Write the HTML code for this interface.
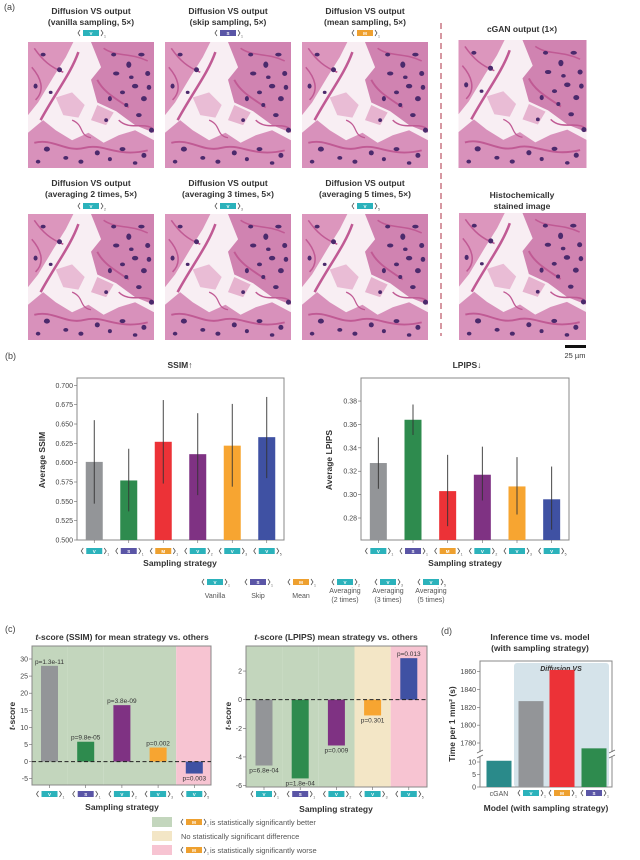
<!DOCTYPE html>
<html><head><meta charset="utf-8">
<style>
html,body{margin:0;padding:0;background:#fff;}
svg{display:block;font-family:"Liberation Sans",sans-serif;}
.t{font-weight:bold;font-size:8.5px;fill:#333;text-anchor:middle;}
.tk{font-size:7px;fill:#444;}
.lb{font-size:7px;fill:#555;text-anchor:middle;}
</style></head><body>
<svg id="fig" width="640" height="860" viewBox="0 0 640 860">
<defs>
<symbol id="tissue" viewBox="0 0 100 100">
<rect width="100" height="100" fill="#f8eef3"/>
<path d="M0 0 L36 0 L30 12 L20 28 L8 48 L0 58 Z" fill="#dc96bd"/>
<path d="M50 0 L100 0 L100 72 L85 66 L70 55 L55 48 L50 30 L58 20 Z" fill="#d083b1"/>
<path d="M0 72 L12 62 L22 70 L35 78 L48 72 L60 80 L72 74 L85 70 L100 78 L100 100 L0 100 Z" fill="#d891bb"/>
<path d="M22 44 L35 40 L45 50 L40 60 L28 58 Z" fill="#e9bcd5"/>
<path d="M55 50 L68 56 L62 66 L50 62 Z" fill="#e6b3cf"/>
<g stroke="#c05a94" fill="none">
<path d="M40 8 C34 25 22 40 10 62" stroke-width="2"/>
<path d="M55 30 C60 40 70 45 80 52" stroke-width="1.5"/>
<path d="M5 5 C12 15 18 20 28 24" stroke-width="1.2"/>
<path d="M3 20 C10 28 14 38 6 46" stroke-width="1.2"/>
<path d="M60 5 C70 12 80 8 95 15" stroke-width="1.2"/>
<path d="M5 80 C20 76 30 88 45 84 C60 80 70 92 95 86" stroke-width="1.5"/>
<path d="M35 62 C45 66 40 74 50 76" stroke-width="1"/>
<path d="M72 62 C80 70 90 64 98 68" stroke-width="1.2"/>
</g>
<g fill="#4b2a6c">
<ellipse cx="70" cy="25" rx="2.5" ry="1.6"/><ellipse cx="80" cy="18" rx="2" ry="2.5"/><ellipse cx="90" cy="10" rx="2.5" ry="1.5"/>
<ellipse cx="95" cy="25" rx="2" ry="2"/><ellipse cx="85" cy="35" rx="2.5" ry="1.8"/><ellipse cx="75" cy="40" rx="2" ry="1.5"/>
<ellipse cx="92" cy="45" rx="2.3" ry="2"/><ellipse cx="65" cy="45" rx="1.6" ry="2"/><ellipse cx="88" cy="58" rx="2.2" ry="1.6"/>
<ellipse cx="12" cy="10" rx="2" ry="1.5"/><ellipse cx="25" cy="22" rx="2" ry="2"/><ellipse cx="6" cy="35" rx="1.6" ry="2"/>
<ellipse cx="15" cy="85" rx="2.4" ry="2"/><ellipse cx="30" cy="92" rx="2" ry="1.5"/><ellipse cx="55" cy="88" rx="2" ry="2"/>
<ellipse cx="75" cy="85" rx="2.3" ry="1.6"/><ellipse cx="92" cy="90" rx="2" ry="2"/><ellipse cx="62" cy="62" rx="1.5" ry="1.5"/>
<ellipse cx="98" cy="70" rx="2" ry="2"/><ellipse cx="68" cy="10" rx="2" ry="1.5"/>
<ellipse cx="82" cy="28" rx="1.8" ry="1.4"/><ellipse cx="96" cy="36" rx="1.8" ry="2"/><ellipse cx="78" cy="50" rx="1.6" ry="1.6"/>
<ellipse cx="18" cy="40" rx="1.5" ry="1.3"/><ellipse cx="42" cy="95" rx="2" ry="1.6"/><ellipse cx="85" cy="96" rx="1.8" ry="1.4"/>
<ellipse cx="8" cy="95" rx="1.8" ry="1.5"/><ellipse cx="65" cy="93" rx="1.6" ry="1.6"/>
</g>
</symbol>
</defs>
<text x="4" y="10" font-size="9" fill="#444">(a)</text>
<g>
<text class="t" x="91" y="14">Diffusion VS output</text><text class="t" x="91" y="25">(vanilla sampling, 5×)</text>
<text class="t" x="228" y="14">Diffusion VS output</text><text class="t" x="228" y="25">(skip sampling, 5×)</text>
<text class="t" x="365" y="14">Diffusion VS output</text><text class="t" x="365" y="25">(mean sampling, 5×)</text>
<text class="t" x="522" y="32">cGAN output (1×)</text>
<text class="t" x="91" y="186">Diffusion VS output</text><text class="t" x="91" y="197">(averaging 2 times, 5×)</text>
<text class="t" x="228" y="186">Diffusion VS output</text><text class="t" x="228" y="197">(averaging 3 times, 5×)</text>
<text class="t" x="365" y="186">Diffusion VS output</text><text class="t" x="365" y="197">(averaging 5 times, 5×)</text>
<text class="t" x="522" y="198">Histochemically</text><text class="t" x="522" y="209">stained image</text>
</g>
<use href="#tissue" x="28" y="42" width="126" height="126"/>
<use href="#tissue" x="165" y="42" width="126" height="126"/>
<use href="#tissue" x="301" y="42" width="128" height="126"/>
<use href="#tissue" x="458" y="40" width="129" height="128"/>
<use href="#tissue" x="28" y="214" width="126" height="126"/>
<use href="#tissue" x="165" y="214" width="126" height="126"/>
<use href="#tissue" x="301" y="214" width="128" height="126"/>
<use href="#tissue" x="458" y="213" width="129" height="127"/>
<line x1="441" y1="23" x2="441" y2="336" stroke="#c06070" stroke-width="1.3" stroke-dasharray="6,4"/>
<rect x="565" y="345" width="21" height="3" fill="#111"/>
<text x="575" y="358" font-size="7.5" fill="#333" text-anchor="middle">25 µm</text>
<text x="5" y="359" font-size="9" fill="#444">(b)</text>
<text class="t" x="180" y="368" font-size="9.5">SSIM↑</text>
<text class="t" x="467" y="368" font-size="9.5">LPIPS↓</text>
<text class="t" x="180" y="566">Sampling strategy</text>
<text class="t" x="465" y="566">Sampling strategy</text>
<text class="t" transform="translate(45,460) rotate(-90)">Average SSIM</text>
<text class="t" transform="translate(332,460) rotate(-90)">Average LPIPS</text>
<g>
<text class="lb" x="215" y="598">Vanilla</text><text class="lb" x="258" y="598">Skip</text><text class="lb" x="301" y="598">Mean</text>
<text class="lb" x="345" y="593">Averaging</text><text class="lb" x="345" y="602">(2 times)</text>
<text class="lb" x="388" y="593">Averaging</text><text class="lb" x="388" y="602">(3 times)</text>
<text class="lb" x="431" y="593">Averaging</text><text class="lb" x="431" y="602">(5 times)</text>
</g>
<text x="5" y="632" font-size="9" fill="#444">(c)</text>
<text class="t" x="122" y="640"><tspan font-style="italic">t</tspan>-score (SSIM) for mean strategy vs. others</text>
<text class="t" x="336" y="640"><tspan font-style="italic">t</tspan>-score (LPIPS) mean strategy vs. others</text>
<text class="t" x="122" y="810">Sampling strategy</text>
<text class="t" x="336" y="812">Sampling strategy</text>
<text class="t" transform="translate(15,716) rotate(-90)"><tspan font-style="italic">t</tspan>-score</text>
<text class="t" transform="translate(231,716) rotate(-90)"><tspan font-style="italic">t</tspan>-score</text>
<g>
<rect x="152" y="817" width="20" height="10" fill="#c3d6bd"/><rect x="152" y="831" width="20" height="10" fill="#f3e6c6"/><rect x="152" y="845" width="20" height="10" fill="#f7c4d2"/>
<text x="210" y="825" font-size="7.5" fill="#555">is statistically significantly better</text>
<text x="181" y="839" font-size="7.5" fill="#555">No statistically significant difference</text>
<text x="210" y="853" font-size="7.5" fill="#555">is statistically significantly worse</text>
</g>
<text x="441" y="634" font-size="9" fill="#444">(d)</text>
<text class="t" x="540" y="640">Inference time vs. model</text>
<text class="t" x="540" y="651">(with sampling strategy)</text>
<text class="t" x="546" y="811" font-size="7.5">Model (with sampling strategy)</text>
<text class="t" font-size="7.5" transform="translate(455,724) rotate(-90)">Time per 1 mm² (s)</text>
<g id="charts"></g>
</svg>
<script>
const strategies = ["V1","S1","M1","V2","V3","V5"];
const ssimMean = [0.601,0.577,0.627,0.611,0.622,0.633];
const ssimLo = [0.547,0.537,0.573,0.558,0.569,0.580];
const ssimHi = [0.655,0.618,0.681,0.664,0.676,0.685];
const ssimTicks = [0.500,0.525,0.550,0.575,0.600,0.625,0.650,0.675,0.700];
const lpipsMean = [0.327,0.364,0.303,0.317,0.307,0.296];
const lpipsLo = [0.305,0.351,0.273,0.295,0.283,0.270];
const lpipsHi = [0.349,0.377,0.334,0.341,0.332,0.324];
const lpipsTicks = [0.28,0.30,0.32,0.34,0.36,0.38];
const tCats = ["V1","S1","V2","V3","V5"];
const tSsim = [28.0,5.8,16.5,4.1,-3.5];
const tSsimP = ["p=1.3e-11","p=9.8e-05","p=3.8e-09","p=0.002","p=0.003"];
const tSsimSig = ["better","better","better","better","worse"];
const tSsimTicks = [-5,0,5,10,15,20,25,30];
const tLpips = [-4.6,-5.5,-3.2,-1.1,2.9];
const tLpipsP = ["p=6.8e-04","p=1.8e-04","p=0.009","p=0.301","p=0.013"];
const tLpipsSig = ["better","better","better","none","worse"];
const tLpipsTicks = [-6,-4,-2,0,2];
const models = ["cGAN","V1","M1","S1"];
const modelTime = [10.5,1827,1862,1774];
const timeTicksHigh = [1780,1800,1820,1840,1860];
const timeTicksLow = [0,5,10];

const NS="http://www.w3.org/2000/svg";
const root=document.getElementById('charts');
function mk(tag,attrs,name,parent){
  const el=document.createElementNS(NS,tag);
  for(const k in attrs) el.setAttribute(k,attrs[k]);
  
  
  (parent||root).appendChild(el);
  return el;
}
function txt(x,y,s,attrs,name){const e=mk('text',Object.assign({x:x,y:y},attrs),name);e.textContent=s;return e;}
const barColor={V1:"#939598",S1:"#2e8b4e",M1:"#ec3237",V2:"#7f3283",V3:"#f7a531",V5:"#3f51a3",cGAN:"#2a8a8a"};
const iconColor={V:"#2bb2bb",S:"#5a55a6",M:"#eea02f"};
function icon(cx,cy,code){
  const g=mk('g',{},'strategy-icon-'+code);
  const t=code[0],sub=code.slice(1);
  mk('polyline',{points:(cx-11)+','+(cy-3)+' '+(cx-13)+','+cy+' '+(cx-11)+','+(cy+3),fill:'none',stroke:'#555','stroke-width':0.8},'icon-left-bracket',g);
  mk('rect',{x:cx-8,y:cy-3,width:16,height:6,fill:iconColor[t]},'icon-box',g);
  const l=mk('text',{x:cx,y:cy+2,'font-size':4.5,fill:'#fff','font-weight':'bold','text-anchor':'middle'},'icon-letter',g);l.textContent=t;
  mk('polyline',{points:(cx+10)+','+(cy-3)+' '+(cx+12)+','+cy+' '+(cx+10)+','+(cy+3),fill:'none',stroke:'#555','stroke-width':0.8},'icon-right-bracket',g);
  const s=mk('text',{x:cx+13,y:cy+4.5,'font-size':3.5,fill:'#555'},'icon-subscript',g);s.textContent=sub;
}
icon(91,33,"V1");icon(228,33,"S1");icon(365,33,"M1");
icon(91,206,"V2");icon(228,206,"V3");icon(365,206,"V5");
[["V1",215],["S1",258],["M1",301],["V2",345],["V3",388],["V5",431]].forEach(a=>icon(a[1],582,a[0]));
icon(194,822,"M1");icon(194,850,"M1");

function linear(d0,d1,r0,r1){return v=>r0+(v-d0)/(d1-d0)*(r1-r0);}

function barPanel(x0,x1,y0,y1,dom,ticks,fmt,means,lo,hi,name){
  const y=linear(dom[0],dom[1],y1,y0);
  const bw=(x1-x0)/means.length;
  mk('rect',{x:x0,y:y0,width:x1-x0,height:y1-y0,fill:'#fff',stroke:'#888','stroke-width':1},name+'-frame');
  ticks.forEach(t=>{mk('line',{x1:x0-3,x2:x0,y1:y(t),y2:y(t),stroke:'#666','stroke-width':0.6},name+'-tick');
    txt(x0-4,y(t)+2.5,fmt(t),{class:'tk','text-anchor':'end'},name+'-tick-label');});
  means.forEach((m,i)=>{const cx=x0+bw*(i+0.5);
    mk('rect',{x:cx-8.5,y:y(m),width:17,height:y1-y(m),fill:barColor[strategies[i]]},name+'-bar-'+strategies[i]);
    mk('line',{x1:cx,x2:cx,y1:y(lo[i]),y2:y(hi[i]),stroke:'#333','stroke-width':0.9},name+'-errorbar');
    mk('line',{x1:cx,x2:cx,y1:y1,y2:y1+3,stroke:'#666','stroke-width':0.6},name+'-xtick');
    icon(cx,551,strategies[i]);});
}
barPanel(77,284,378,540,[0.5,0.7095],ssimTicks,t=>t.toFixed(3),ssimMean,ssimLo,ssimHi,'ssim');
barPanel(361,569,378,540,[0.2612,0.3997],lpipsTicks,t=>t.toFixed(2),lpipsMean,lpipsLo,lpipsHi,'lpips');

const sigColor={better:"#c3d6bd",none:"#f3e6c6",worse:"#f7c4d2"};
function tPanel(x0,x1,y0,y1,dom,ticks,vals,ps,sig,c0,step,name){
  const y=linear(dom[0],dom[1],y1,y0);
  vals.forEach((v,i)=>{const cx=c0+step*i;
    const l=i==0?x0:cx-step/2, r=i==vals.length-1?x1:cx+step/2;
    mk('rect',{x:l,y:y0,width:r-l,height:y1-y0,fill:sigColor[sig[i]]},name+'-region-'+sig[i]);});
  mk('rect',{x:x0,y:y0,width:x1-x0,height:y1-y0,fill:'none',stroke:'#888','stroke-width':1},name+'-frame');
  ticks.forEach(t=>{mk('line',{x1:x0-3,x2:x0,y1:y(t),y2:y(t),stroke:'#666','stroke-width':0.6},name+'-tick');
    txt(x0-4,y(t)+2.5,String(t),{class:'tk','text-anchor':'end'},name+'-tick-label');});
  vals.forEach((v,i)=>{const cx=c0+step*i;
    mk('rect',{x:cx-8.5,y:Math.min(y(v),y(0)),width:17,height:Math.abs(y(v)-y(0)),fill:barColor[tCats[i]]},name+'-bar-'+tCats[i]);
    const ly=v>=0?y(v)-2:y(v)+7;
    txt(cx,ly,ps[i],{'font-size':6.5,fill:'#333','text-anchor':'middle'},name+'-p-value');
    mk('line',{x1:cx,x2:cx,y1:y1,y2:y1+3,stroke:'#666','stroke-width':0.6},name+'-xtick');
    icon(cx,794,tCats[i]);});
  mk('line',{x1:x0,x2:x1,y1:y(0),y2:y(0),stroke:'#222','stroke-width':1,'stroke-dasharray':'4,2.5'},name+'-zero-line');
}
tPanel(32,211,646,785,[-6.85,33.8],tSsimTicks,tSsim,tSsimP,tSsimSig,49.5,36.2,'tssim');
tPanel(246,427,646,787,[-6.1,3.75],tLpipsTicks,tLpips,tLpipsP,tLpipsSig,264,36.2,'tlpips');

(function(){
  const x0=480,x1=612,y0=661,y1=787,brk=754;
  const yHi=linear(1860,1780,671.7,743), yLo=linear(0,10,787,762);
  const y=v=>v<100?yLo(v):yHi(v);
  mk('rect',{x:514,y:663,width:95,height:y1-663,fill:'#d5e3ea',rx:3},'diffusion-vs-region');
  txt(561,671,'Diffusion VS',{'font-size':7,'font-style':'italic','font-weight':'bold',fill:'#333','text-anchor':'middle'},'diffusion-vs-label');
  mk('polyline',{points:x0+','+(brk-2)+' '+x0+','+y0+' '+x1+','+y0+' '+x1+','+(brk-2),fill:'none',stroke:'#888','stroke-width':1},'d-frame-top');
  mk('polyline',{points:x0+','+(brk+3)+' '+x0+','+y1+' '+x1+','+y1+' '+x1+','+(brk+3),fill:'none',stroke:'#888','stroke-width':1},'d-frame-bottom');
  [x0,x1].forEach(xx=>{mk('line',{x1:xx-3,x2:xx+3,y1:brk-1,y2:brk-4,stroke:'#666','stroke-width':0.7},'axis-break-mark');
    mk('line',{x1:xx-3,x2:xx+3,y1:brk+4,y2:brk+1,stroke:'#666','stroke-width':0.7},'axis-break-mark');});
  timeTicksHigh.forEach(t=>{mk('line',{x1:x0-3,x2:x0,y1:yHi(t),y2:yHi(t),stroke:'#666','stroke-width':0.6},'d-tick');
    txt(x0-4,yHi(t)+2.5,String(t),{class:'tk','font-size':6.5,'text-anchor':'end'},'d-tick-label');});
  timeTicksLow.forEach(t=>{mk('line',{x1:x0-3,x2:x0,y1:yLo(t),y2:yLo(t),stroke:'#666','stroke-width':0.6},'d-tick');
    txt(x0-4,yLo(t)+2.5,String(t),{class:'tk','font-size':6.5,'text-anchor':'end'},'d-tick-label');});
  const centers=[499,531,562,594];
  models.forEach((m,i)=>{const cx=centers[i];
    mk('rect',{x:cx-12.5,y:y(modelTime[i]),width:25,height:y1-y(modelTime[i]),fill:barColor[m]},'d-bar-'+m);
    if(m==='cGAN') txt(cx,796,'cGAN',{'font-size':7,fill:'#555','text-anchor':'middle'},'d-x-label');
    else icon(cx,793,m);});
})();
</script>
</body></html>
